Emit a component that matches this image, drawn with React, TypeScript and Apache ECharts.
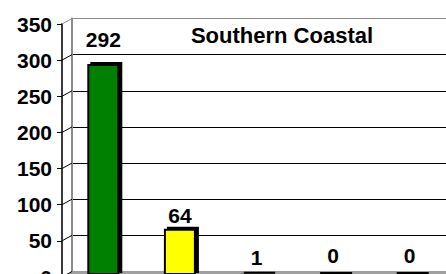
import React, { useEffect, useRef } from 'react';
import * as echarts from 'echarts';

const chartTitle = 'Southern Coastal';
const categories = ['Category 1', 'Category 2', 'Category 3', 'Category 4', 'Category 5'];
const values = [292, 64, 1, 0, 0];
const barColors = ['#008000', '#FFFF00', '#FF0000', '#0000FF', '#808080'];
const yTicks = [0, 50, 100, 150, 200, 250, 300, 350];
const labelGap = [14, 3, 6, 8, 8];

const W = 446;
const H = 274;
const FONT = '"Liberation Sans", Arial, Helvetica, sans-serif';
const FRONT = { left: 62, top: 24, height: 253 };
const BACK = { left: 72, top: 18.5, height: 253 };
const BARS = { left: 65, top: 22, height: 253, width: 383 };
const DEPTH = { dx: 3, dy: -2 };

export default function App() {
  const ref = useRef<HTMLDivElement>(null);
  useEffect(() => {
    document.body.style.margin = '0';
    const chart = echarts.init(ref.current!, null, { renderer: 'svg' });
    const yMin = yTicks[0];
    const yMax = yTicks[yTicks.length - 1];
    const yStep = yTicks[1] - yTicks[0];
    const yBase = { type: 'value', min: yMin, max: yMax, interval: yStep };
    const gridBase = { outerBoundsMode: 'none', containLabel: false };
    chart.setOption({
      animation: false,
      grid: [
        { ...gridBase, left: BACK.left, top: BACK.top, height: BACK.height, right: -10 },
        { ...gridBase, left: FRONT.left, top: FRONT.top, height: FRONT.height, width: 1 },
        { ...gridBase, left: BARS.left, top: BARS.top, height: BARS.height, width: BARS.width },
        { ...gridBase, left: BARS.left + DEPTH.dx, top: BARS.top + DEPTH.dy, height: BARS.height, width: BARS.width },
      ],
      xAxis: [0, 1, 2, 3].map((i) => ({ type: 'category', data: categories, gridIndex: i, show: false })),
      yAxis: [
        {
          ...yBase,
          gridIndex: 0,
          axisLabel: { show: false },
          axisTick: { show: false },
          axisLine: { show: true, lineStyle: { color: '#8c8c8c', width: 2 } },
          splitLine: {
            show: true,
            lineStyle: { color: ['#9a9a9a', '#000', '#000', '#000', '#000', '#000', '#000', '#8c8c8c'], width: 1 },
          },
        },
        {
          ...yBase,
          gridIndex: 1,
          axisLabel: { show: true, margin: 10, fontFamily: FONT, fontWeight: 'bold', fontSize: 21, color: '#000' },
          axisTick: { show: true, length: 5, lineStyle: { color: '#000', width: 1 } },
          axisLine: { show: true, lineStyle: { color: '#3a3a3a', width: 2 } },
          splitLine: { show: false },
        },
        { ...yBase, gridIndex: 2, show: false, splitLine: { show: false } },
        { ...yBase, gridIndex: 3, show: false, splitLine: { show: false } },
      ],
      series: [
        {
          type: 'bar',
          xAxisIndex: 3,
          yAxisIndex: 3,
          barWidth: 32,
          data: values,
          itemStyle: { color: '#000', borderColor: '#000', borderWidth: 2 },
          silent: true,
          z: 8,
        },
        {
          type: 'bar',
          xAxisIndex: 2,
          yAxisIndex: 2,
          barWidth: 32,
          data: values.map((v, i) => ({
            value: v,
            itemStyle: { color: barColors[i] },
            label: { distance: labelGap[i] },
          })),
          itemStyle: { borderColor: '#000', borderWidth: 2 },
          label: { show: true, position: 'top', fontFamily: FONT, fontWeight: 'bold', fontSize: 21, color: '#000' },
          z: 10,
        },
      ],
    });
    const fy = (v: number) => chart.convertToPixel({ yAxisIndex: 1 }, v) as number;
    const by = (v: number) => chart.convertToPixel({ yAxisIndex: 0 }, v) as number;
    chart.setOption({
      graphic: [
        ...yTicks.map((v) => ({
          type: 'line',
          z: 1,
          shape: { x1: FRONT.left, y1: fy(v), x2: BACK.left, y2: by(v) },
          style: { stroke: v === yMax ? '#8c8c8c' : '#000', lineWidth: 1 },
        })),
        {
          type: 'polygon',
          z: 0,
          shape: {
            points: [
              [FRONT.left + 1, fy(0)],
              [BACK.left, by(0)],
              [W + 20, by(0)],
              [W + 20, fy(0)],
            ],
          },
          style: { fill: '#a0a0a0' },
        },
        {
          type: 'text',
          z: 5,
          x: 282,
          y: 35.5,
          style: {
            text: chartTitle,
            font: `bold 22px ${FONT}`,
            textAlign: 'center',
            textVerticalAlign: 'middle',
            fill: '#000',
          },
        },
      ],
    });
    return () => chart.dispose();
  }, []);
  return <div ref={ref} style={{ width: W, height: H }} />;
}
